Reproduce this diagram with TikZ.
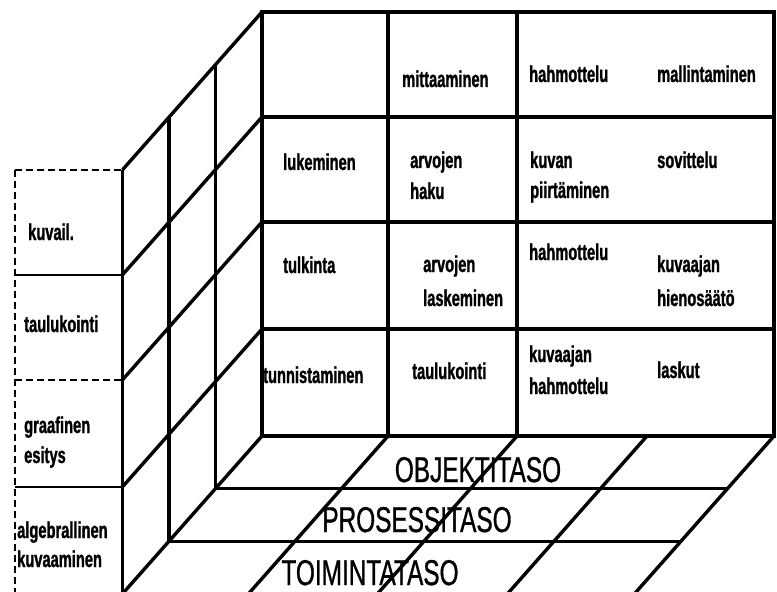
\documentclass[tikz,border=0pt]{standalone}
\usepackage{fontspec}
\newfontfamily\cellfont[FakeStretch=0.64,FakeBold=1.2]{Liberation Sans}
\newfontfamily\levelfont[FakeStretch=0.68,FakeBold=0.8]{Liberation Sans}
\begin{document}
\begin{tikzpicture}[x=1bp,y=-1bp,
  cell/.style={anchor=base west, inner sep=0pt, font=\cellfont\bfseries\fontsize{23}{30}\selectfont},
  level/.style={anchor=base, inner sep=0pt, font=\levelfont\fontsize{36}{40}\selectfont},
  gridline/.style={line width=3.8bp, line cap=rect},
  edgeline/.style={line width=3.4bp},
  thinline/.style={line width=2.6bp},
  dashline/.style={line width=2.8bp, dash pattern=on 7bp off 4bp}]
\useasboundingbox (0,0) rectangle (777,592);
\clip (0,0) rectangle (777,592);
\fill[white] (0,0) rectangle (777,592);

% left dashed box
\draw[dashline] (15,170) -- (122.5,170);
\draw[dashline] (15,170) -- (15,600);
\draw[thinline] (15,275) -- (122.5,275);
\draw[dashline] (15,380) -- (122.5,380);
\draw[thinline] (15,487) -- (122.5,487);

% side face
\foreach \y in {12,117,222,329,436}
  \draw[edgeline] (262,\y) -- ++(-139.5,157.8);
\foreach \k in {1,2,3}
  \draw[edgeline] ({262-46.5*\k},{12+52.6*\k}) -- ({262-46.5*\k},{436+52.6*\k});

% floor
\foreach \x in {388,517,647,774}
  \draw[edgeline] (\x,436) -- ++(-139.5,157.8);
\foreach \k in {1,2}
  \draw[edgeline] ({262-46.5*\k},{436+52.6*\k}) -- ({774-46.5*\k},{436+52.6*\k});

% front face
\draw[gridline] (262,12) rectangle (774,436);
\foreach \y in {117,222,329}
  \draw[gridline] (262,\y) -- (774,\y);
\foreach \x in {388,517}
  \draw[gridline] (\x,12) -- (\x,436);

% front texts
\node[cell] (t12) at (402,87) {mittaaminen};
\node[cell] (t13a) at (529,82) {hahmottelu};
\node[cell] (t13b) at (657,82) {mallintaminen};
\node[cell] (t21) at (283,170) {lukeminen};
\node[cell] (t22a) at (410,168) {arvojen};
\node[cell] (t22b) at (410,199) {haku};
\node[cell] (t23a) at (530,168) {kuvan};
\node[cell] (t23b) at (530,198) {piirtäminen};
\node[cell] (t23c) at (657,168) {sovittelu};
\node[cell] (t31) at (283,273) {tulkinta};
\node[cell] (t32a) at (423,272) {arvojen};
\node[cell] (t32b) at (423,306) {laskeminen};
\node[cell] (t33a) at (529,260) {hahmottelu};
\node[cell] (t33b) at (657,272) {kuvaajan};
\node[cell] (t33c) at (657,306) {hienosäätö};
\node[cell] (t41) at (263,383) {tunnistaminen};
\node[cell] (t42) at (412,379) {taulukointi};
\node[cell] (t43a) at (529,362) {kuvaajan};
\node[cell] (t43b) at (529,394) {hahmottelu};
\node[cell] (t43c) at (657,378) {laskut};

% left box texts
\node[cell] (l1) at (28,240) {kuvail.};
\node[cell] (l2) at (24,332) {taulukointi};
\node[cell] (l3a) at (24,433) {graafinen};
\node[cell] (l3b) at (24,463) {esitys};
\node[cell] (l4a) at (17,538) {algebrallinen};
\node[cell] (l4b) at (17,567) {kuvaaminen};

% level labels
\node[level] (objekti) at (478,482) {OBJEKTITASO};
\node[level] (prosessi) at (417,532) {PROSESSITASO};
\node[level] (toiminta) at (370,585) {TOIMINTATASO};
\end{tikzpicture}
\end{document}
